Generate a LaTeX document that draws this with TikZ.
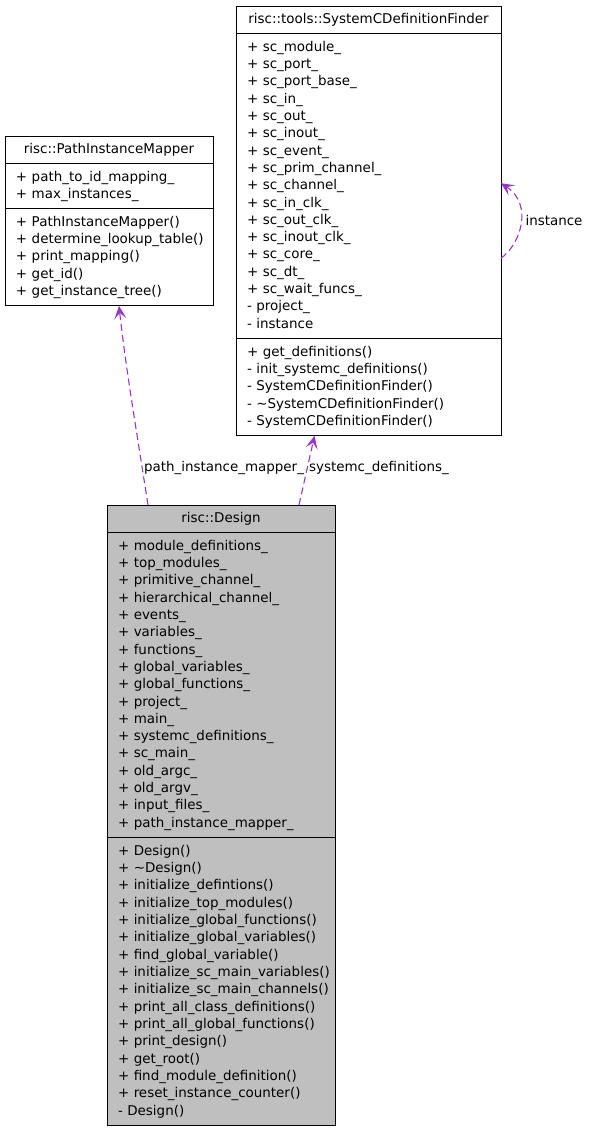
\documentclass[tikz,border=0pt]{standalone}
\usepackage{fontspec}
\setmainfont{DejaVu Sans}
\usetikzlibrary{positioning,arrows.meta}
\definecolor{usecol}{HTML}{9A32CD}
\definecolor{boxgray}{HTML}{BFBFBF}
\newcommand{\umlfont}{\fontsize{13.45}{17.33}\selectfont}
\newcommand{\members}[1]{\begin{tabular}{@{}l@{}}#1\end{tabular}}
\tikzset{
  umlbox/.style={draw=black, line width=0.9pt, inner xsep=11pt, inner ysep=0pt,
    outer sep=0pt, align=left, font=\umlfont},
  umltitle/.style={umlbox, align=center, minimum height=27.7pt},
  uses/.style={draw=usecol, line width=1.1pt, dash pattern=on 7pt off 4pt,
    -{Stealth[length=13pt,width=12pt,inset=6pt]}},
  rolelabel/.style={font=\umlfont, inner sep=0pt}
}
\begin{document}
\begin{tikzpicture}[x=1pt,y=-1pt]
  \useasboundingbox (0,0) rectangle (589,1133);
  % risc::PathInstanceMapper
  \node[umltitle, anchor=north west, text width=186pt, minimum width=208pt] (pim) at (5,136) {risc::PathInstanceMapper};
  \node[umlbox, below=0pt of pim, text width=186pt, minimum width=208pt, minimum height=45.1pt] (pimattrs)
    {\members{+ path\_to\_id\_mapping\_\\+ max\_instances\_}};
  \node[umlbox, below=0pt of pimattrs, text width=186pt, minimum width=208pt, minimum height=97.1pt] (pimops)
    {\members{+ PathInstanceMapper()\\+ determine\_lookup\_table()\\+ print\_mapping()\\+ get\_id()\\+ get\_instance\_tree()}};
  % risc::tools::SystemCDefinitionFinder
  \node[umltitle, anchor=north west, text width=243pt, minimum width=265pt] (scdf) at (236,6) {risc::tools::SystemCDefinitionFinder};
  \node[umlbox, below=0pt of scdf, text width=243pt, minimum width=265pt, minimum height=305pt] (scdfattrs)
    {\members{+ sc\_module\_\\+ sc\_port\_\\+ sc\_port\_base\_\\+ sc\_in\_\\+ sc\_out\_\\+ sc\_inout\_\\+ sc\_event\_\\+ sc\_prim\_channel\_\\+ sc\_channel\_\\+ sc\_in\_clk\_\\+ sc\_out\_clk\_\\+ sc\_inout\_clk\_\\+ sc\_core\_\\+ sc\_dt\_\\+ sc\_wait\_funcs\_\\- project\_\\- instance}};
  \node[umlbox, below=0pt of scdfattrs, text width=243pt, minimum width=265pt, minimum height=97.1pt] (scdfops)
    {\members{+ get\_definitions()\\- init\_systemc\_definitions()\\- SystemCDefinitionFinder()\\- \textasciitilde SystemCDefinitionFinder()\\- SystemCDefinitionFinder()}};
  % risc::Design
  \node[umltitle, fill=boxgray, anchor=north west, text width=206pt, minimum width=228pt] (design) at (107,505) {risc::Design};
  \node[umlbox, fill=boxgray, below=0pt of design, text width=206pt, minimum width=228pt, minimum height=305pt] (designattrs)
    {\members{+ module\_definitions\_\\+ top\_modules\_\\+ primitive\_channel\_\\+ hierarchical\_channel\_\\+ events\_\\+ variables\_\\+ functions\_\\+ global\_variables\_\\+ global\_functions\_\\+ project\_\\+ main\_\\+ systemc\_definitions\_\\+ sc\_main\_\\+ old\_argc\_\\+ old\_argv\_\\+ input\_files\_\\+ path\_instance\_mapper\_}};
  \node[umlbox, fill=boxgray, below=0pt of designattrs, text width=206pt, minimum width=228pt, minimum height=287.7pt] (designops)
    {\members{+ Design()\\+ \textasciitilde Design()\\+ initialize\_defintions()\\+ initialize\_top\_modules()\\+ initialize\_global\_functions()\\+ initialize\_global\_variables()\\+ find\_global\_variable()\\+ initialize\_sc\_main\_variables()\\+ initialize\_sc\_main\_channels()\\+ print\_all\_class\_definitions()\\+ print\_all\_global\_functions()\\+ print\_design()\\+ get\_root()\\+ find\_module\_definition()\\+ reset\_instance\_counter()\\- Design()}};
  % usage arrows
  \draw[uses] ([xshift=-73pt]design.north) .. controls (138,440) and (126,370) .. ([xshift=10pt]pimops.south);
  \draw[uses] ([xshift=78pt]design.north) -- ([xshift=-54pt]scdfops.south);
  \draw[uses] ([yshift=-72pt]scdfattrs.east) .. controls (520,245) and (534,205) .. ([yshift=3pt]scdfattrs.east);
  \node[rolelabel] (pimrole) at (224,468) {path\_instance\_mapper\_};
  \node[rolelabel] (scdfrole) at (379,468) {systemc\_definitions\_};
  \node[rolelabel] (instrole) at (554,220) {instance};
\end{tikzpicture}
\end{document}
